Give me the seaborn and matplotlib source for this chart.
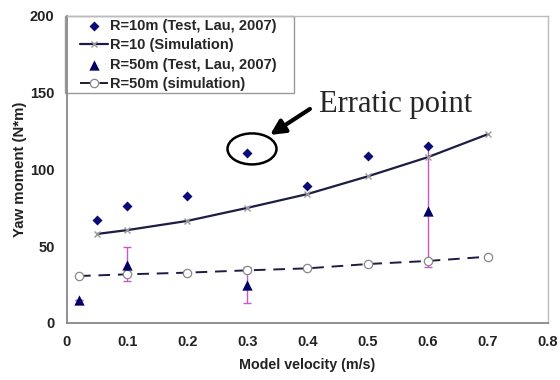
import matplotlib
matplotlib.use("Agg")
import matplotlib.pyplot as plt
from matplotlib.patches import Ellipse, Rectangle
import seaborn as sns
import numpy as np

# Measured yaw moment, R = 10 m (Lau, 2007)
test10_v = [0.05, 0.1, 0.2, 0.3, 0.4, 0.5, 0.6]
test10_m = [67, 76.5, 82.7, 111, 89, 108.5, 115]

# Simulated yaw moment, R = 10 m
sim10_v = [0.05, 0.1, 0.2, 0.3, 0.4, 0.5, 0.6, 0.7]
sim10_m = [58, 60.5, 66.5, 75, 84, 95.5, 108, 123]

# Measured yaw moment, R = 50 m (Lau, 2007) with error ranges
test50_v = [0.02, 0.1, 0.3, 0.6]
test50_m = [15, 37.8, 24.7, 73]
test50_lo = [15, 27.5, 13.2, 36.5]
test50_hi = [15, 49.5, 36.6, 115]

# Simulated yaw moment, R = 50 m
sim50_v = [0.02, 0.1, 0.2, 0.3, 0.4, 0.5, 0.6, 0.7]
sim50_m = [30.6, 31.7, 32.8, 34.3, 35.6, 38.4, 40.4, 43.2]

sns.set_style("white")
plt.rcParams["font.family"] = ["Liberation Sans", "DejaVu Sans"]

fig = plt.figure(figsize=(5.6, 3.8), dpi=100)
ax = fig.add_axes([0.1196, 0.15, 0.859, 0.808])

navy = "#0a0a78"

# error bars for the R=50 m tests
err = np.array([np.array(test50_m) - np.array(test50_lo),
                np.array(test50_hi) - np.array(test50_m)])
ax.errorbar(test50_v, test50_m, yerr=err, fmt="none", ecolor="#cc55cc",
            elinewidth=1.0, capsize=3, capthick=1.0, zorder=2)

sns.lineplot(x=sim10_v, y=sim10_m, ax=ax, color="#1c1c44", lw=1.6,
             marker="x", markersize=5, markeredgecolor="#999999",
             markeredgewidth=1.0, label="R=10 (Simulation)", zorder=3)
sns.lineplot(x=sim50_v, y=sim50_m, ax=ax, color="#1c1c44", lw=1.4,
             linestyle=(0, (6, 4)), marker="o", markersize=6,
             markerfacecolor="white", markeredgecolor="#888888",
             markeredgewidth=0.9, label="R=50m (simulation)", zorder=3)
sns.scatterplot(x=test10_v, y=test10_m, ax=ax, marker="D", s=26,
                color=navy, edgecolor=navy, linewidth=0,
                label="R=10m (Test, Lau, 2007)", zorder=4)
sns.scatterplot(x=test50_v, y=test50_m, ax=ax, marker="^", s=55,
                color="#000066", edgecolor="#000066", linewidth=0,
                label="R=50m (Test, Lau, 2007)", zorder=4)

ax.set_xlim(0, 0.8)
ax.set_ylim(0, 200)
ax.set_xticks(np.arange(0, 0.81, 0.1))
ax.set_xticklabels(["0", "0.1", "0.2", "0.3", "0.4", "0.5", "0.6", "0.7", "0.8"])
ax.set_yticks([0, 50, 100, 150, 200])
ax.tick_params(axis="both", direction="out", length=4, width=1,
               color="#888888", labelsize=10.5, pad=5)
for lab in ax.get_xticklabels() + ax.get_yticklabels():
    lab.set_fontweight("bold")
    lab.set_color("#222222")

ax.set_xlabel("Model velocity (m/s)", fontsize=10.3, fontweight="bold",
              color="#222222", labelpad=6)
ax.set_ylabel("Yaw moment (N*m)", fontsize=10.8, fontweight="bold",
              color="#222222", labelpad=2)

for side in ["left", "bottom"]:
    ax.spines[side].set_color("#888888")
    ax.spines[side].set_linewidth(1.3)
for side in ["top", "right"]:
    ax.spines[side].set_color("#bbbbbb")
    ax.spines[side].set_linewidth(1.0)

# legend in the upper-left corner, inside a plain box
handles, labels = ax.get_legend_handles_labels()
order = ["R=10m (Test, Lau, 2007)", "R=10 (Simulation)",
         "R=50m (Test, Lau, 2007)", "R=50m (simulation)"]
hmap = dict(zip(labels, handles))
leg = ax.legend([hmap[k] for k in order], order, loc="upper left",
                bbox_to_anchor=(0.022, 1.0), borderaxespad=0,
                frameon=False, handlelength=1.9, handletextpad=0.15,
                labelspacing=0.37, borderpad=0.2,
                prop={"weight": "bold", "size": 10.5})
ax.add_patch(Rectangle((-0.004, 0.749), 0.476, 0.251, transform=ax.transAxes,
                       fill=True, facecolor="white", edgecolor="#999999",
                       lw=1.0, clip_on=False, zorder=1))

# highlight the outlying measurement
ax.add_patch(Ellipse((0.3077, 113.4), 0.0815, 20.2, fill=False,
                     edgecolor="black", lw=1.8, zorder=5))
ax.annotate("", xy=(0.3376, 122.5), xytext=(0.404, 139.4),
            arrowprops=dict(arrowstyle="-|>", lw=3, color="black",
                            mutation_scale=22, shrinkA=0, shrinkB=0))
ax.text(0.419, 137.5, "Erratic point", fontsize=22, va="baseline",
        ha="left", family=["Liberation Serif", "DejaVu Serif"])

fig.savefig("out.png", dpi=100)
